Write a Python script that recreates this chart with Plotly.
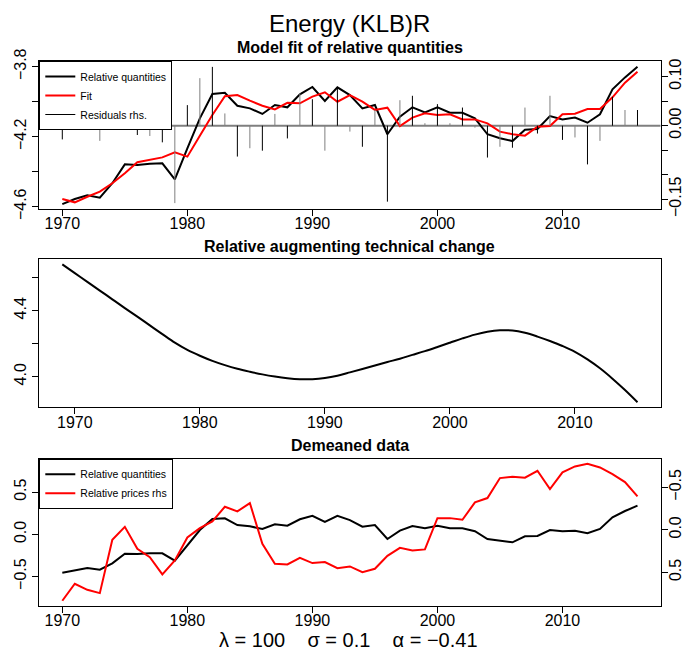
import plotly.graph_objects as go

# ---------------- data ----------------
years = list(range(1970, 2017))          # panels 1 and 3
years_tc = list(range(1969, 2016))       # panel 2

rel_quantities = [-4.585, -4.556, -4.535, -4.548, -4.466, -4.358, -4.362, -4.354, -4.352, -4.444,
                  -4.266, -4.095, -3.956, -3.949, -4.023, -4.038, -4.070, -4.019, -4.032, -3.958,
                  -3.916, -3.996, -3.918, -3.962, -4.038, -4.019, -4.186, -4.086, -4.032, -4.061,
                  -4.032, -4.063, -4.063, -4.095, -4.186, -4.209, -4.225, -4.160, -4.156, -4.082,
                  -4.101, -4.091, -4.120, -4.072, -3.929, -3.861, -3.800]

fit = [-4.556, -4.575, -4.543, -4.514, -4.466, -4.409, -4.346, -4.333, -4.318, -4.289,
       -4.314, -4.194, -4.076, -3.969, -3.962, -3.994, -4.023, -4.044, -4.006, -4.009,
       -3.971, -3.946, -4.000, -3.962, -4.000, -4.047, -4.034, -4.139, -4.091, -4.066,
       -4.076, -4.072, -4.101, -4.101, -4.124, -4.171, -4.186, -4.194, -4.143, -4.139,
       -4.072, -4.069, -4.042, -4.042, -3.975, -3.891, -3.829]

residuals = [-0.028, 0.027, 0.016, -0.031, 0.008, 0.052, -0.019, -0.021, -0.034, -0.158,
             0.042, 0.097, 0.120, 0.025, -0.063, -0.046, -0.051, 0.024, -0.026, 0.066,
             0.054, -0.051, 0.078, -0.012, -0.043, 0.032, -0.155, 0.052, 0.061, 0.005,
             0.044, 0.005, 0.037, -0.004, -0.065, -0.043, -0.045, 0.037, -0.016, 0.061,
             -0.029, -0.024, -0.079, -0.031, 0.059, 0.032, 0.032]

tech_change = [4.681, 4.628, 4.575, 4.522, 4.469, 4.416, 4.364, 4.311, 4.258, 4.206,
               4.162, 4.127, 4.096, 4.070, 4.048, 4.030, 4.014, 4.001, 3.991, 3.985,
               3.985, 3.992, 4.006, 4.026, 4.047, 4.068, 4.089, 4.109, 4.132, 4.155,
               4.180, 4.206, 4.232, 4.255, 4.272, 4.281, 4.280, 4.266, 4.243, 4.216,
               4.186, 4.151, 4.105, 4.051, 3.988, 3.919, 3.845]

demeaned_q = [-0.455, -0.423, -0.399, -0.419, -0.344, -0.230, -0.233, -0.225, -0.225, -0.313,
              -0.130, 0.051, 0.181, 0.190, 0.110, 0.095, 0.063, 0.118, 0.102, 0.178,
              0.220, 0.146, 0.220, 0.168, 0.090, 0.110, -0.056, 0.043, 0.098, 0.071,
              0.102, 0.071, 0.071, 0.036, -0.056, -0.079, -0.095, -0.024, -0.020, 0.051,
              0.036, 0.043, 0.012, 0.063, 0.201, 0.276, 0.339]

demeaned_p = [0.835, 0.635, 0.706, 0.745, 0.118, -0.035, 0.224, 0.322, 0.525, 0.361,
              0.090, -0.020, -0.098, -0.271, -0.216, -0.314, 0.165, 0.400, 0.408, 0.329,
              0.392, 0.380, 0.451, 0.431, 0.498, 0.459, 0.306, 0.212, 0.243, 0.231,
              -0.137, -0.137, -0.118, -0.322, -0.373, -0.608, -0.624, -0.612, -0.694, -0.478,
              -0.675, -0.745, -0.776, -0.733, -0.655, -0.561, -0.392]

x_ticks = [1970, 1980, 1990, 2000, 2010]
main_title = "Energy (KLB)R"
sub_titles = ["Model fit of relative quantities", "Relative augmenting technical change", "Demeaned data"]
param_text = "λ = 100\u00a0\u00a0\u00a0 σ = 0.1\u00a0\u00a0\u00a0 α = −0.41"

# ---------------- styling ----------------
FONT = "Liberation Sans, Arial, Helvetica, sans-serif"
GRAY = "#7f7f7f"
W, H = 684, 654
XL, XR = 39.3 / W, 660.5 / W
dom_top = [1 - 209 / H, 1 - 61 / H]
dom_mid = [1 - 407.3 / H, 1 - 259.3 / H]
dom_bot = [1 - 605.7 / H, 1 - 458.7 / H]

fig = go.Figure()

# panel 1
fig.add_trace(go.Scatter(x=years, y=rel_quantities, mode="lines", name="Relative quantities",
                         line=dict(color="black", width=2), xaxis="x", yaxis="y", legend="legend"))
fig.add_trace(go.Scatter(x=years, y=fit, mode="lines", name="Fit",
                         line=dict(color="red", width=2), xaxis="x", yaxis="y", legend="legend"))

rx_even, ry_even, rx_odd, ry_odd = [], [], [], []
for i, (yr, r) in enumerate(zip(years, residuals)):
    if i % 2 == 0:
        rx_even += [yr, yr, None]; ry_even += [0, r, None]
    else:
        rx_odd += [yr, yr, None]; ry_odd += [0, r, None]
fig.add_trace(go.Scatter(x=rx_even, y=ry_even, mode="lines", name="Residuals rhs.",
                         line=dict(color="black", width=1), xaxis="x", yaxis="y2",
                         legend="legend", legendgroup="res"))
fig.add_trace(go.Scatter(x=rx_odd, y=ry_odd, mode="lines", name="Residuals rhs.",
                         line=dict(color=GRAY, width=1), xaxis="x", yaxis="y2",
                         legendgroup="res", showlegend=False))

# panel 2
fig.add_trace(go.Scatter(x=years_tc, y=tech_change, mode="lines", line=dict(color="black", width=2, shape="spline"),
                         xaxis="x2", yaxis="y3", showlegend=False))

# panel 3
fig.add_trace(go.Scatter(x=years, y=demeaned_q, mode="lines", name="Relative quantities",
                         line=dict(color="black", width=2), xaxis="x3", yaxis="y4", legend="legend2"))
fig.add_trace(go.Scatter(x=years, y=demeaned_p, mode="lines", name="Relative prices rhs",
                         line=dict(color="red", width=2), xaxis="x3", yaxis="y5", legend="legend2"))

tickfont = dict(family=FONT, size=16, color="black")
common_x = dict(ticks="outside", ticklen=6, tickwidth=1, tickcolor="black", showline=True,
                linecolor="black", linewidth=1, mirror=True, showgrid=False, zeroline=False,
                tickvals=x_ticks, tickfont=tickfont, domain=[XL, XR], automargin=False,
                ticklabelstandoff=-6)
common_y = dict(ticks="outside", ticklen=6, tickwidth=1, tickcolor="black", showgrid=False,
                zeroline=False, tickfont=tickfont, tickangle=-90, automargin=False)

span = years[-1] - years[0]
pad = 0.04 * span
span2 = years_tc[-1] - years_tc[0]
pad2 = 0.04 * span2


def lab(v, fmt):
    return (fmt % v).replace("-", "−")


y1_ticks = [-3.8, -4.0, -4.2, -4.4, -4.6]
y2_ticks = [0.10, 0.05, 0.00, -0.05, -0.10, -0.15]
y3_ticks = [4.0, 4.2, 4.4, 4.6]
y45_ticks = [-0.5, 0.0, 0.5]

fig.update_layout(
    width=W, height=H, margin=dict(l=0, r=0, t=0, b=0, autoexpand=False),
    paper_bgcolor="white", plot_bgcolor="white",
    font=dict(family=FONT, color="black"),
    xaxis=dict(common_x, anchor="y", range=[years[0] - pad, years[-1] + pad]),
    xaxis2=dict(common_x, anchor="y3", range=[years_tc[0] - pad2, years_tc[-1] + pad2]),
    xaxis3=dict(common_x, anchor="y4", range=[years[0] - pad, years[-1] + pad]),
    yaxis=dict(common_y, domain=dom_top, anchor="x", range=[-4.6131, -3.7674],
               showline=True, linecolor="black", linewidth=1, mirror=True,
               tickvals=y1_ticks,
               ticktext=[lab(v, "%.1f") if v in (-3.8, -4.2, -4.6) else "" for v in y1_ticks]),
    yaxis2=dict(common_y, overlaying="y", side="right", anchor="x", range=[-0.170, 0.132],
                showline=False, tickvals=y2_ticks, ticklabelstandoff=-6,
                ticktext=[lab(v, "%.2f") if v in (0.10, 0.00, -0.15) else "" for v in y2_ticks]),
    yaxis3=dict(common_y, domain=dom_mid, anchor="x2", range=[3.8145, 4.7115],
                showline=True, linecolor="black", linewidth=1, mirror=True,
                tickvals=y3_ticks,
                ticktext=[lab(v, "%.1f") if v in (4.0, 4.4) else "" for v in y3_ticks]),
    yaxis4=dict(common_y, domain=dom_bot, anchor="x3", range=[-0.846, 0.896],
                showline=True, linecolor="black", linewidth=1, mirror=True,
                tickvals=y45_ticks, ticktext=[lab(v, "%.1f") for v in y45_ticks]),
    yaxis5=dict(common_y, overlaying="y4", side="right", anchor="x3", range=[0.893, -0.836],
                showline=False, tickvals=y45_ticks, ticklabelstandoff=-6,
                ticktext=[lab(v, "%.1f") for v in y45_ticks]),
    legend=dict(x=XL, y=dom_top[1], xanchor="left", yanchor="top", bgcolor="white",
                bordercolor="black", borderwidth=1, font=dict(family=FONT, size=10.5),
                tracegroupgap=0),
    legend2=dict(x=XL, y=dom_bot[1], xanchor="left", yanchor="top", bgcolor="white",
                 bordercolor="black", borderwidth=1, font=dict(family=FONT, size=10.5)),
    shapes=[dict(type="line", xref="x domain", x0=0, x1=1, yref="y2", y0=0, y1=0,
                 line=dict(color=GRAY, width=2), layer="below")],
)

xc = (XL + XR) / 2
ann = [
    dict(text=main_title, x=xc, y=1 - 23 / H, font=dict(size=24)),
    dict(text="<b>%s</b>" % sub_titles[0], x=xc, y=1 - 47 / H, font=dict(size=16)),
    dict(text="<b>%s</b>" % sub_titles[1], x=xc, y=1 - 247 / H, font=dict(size=16)),
    dict(text="<b>%s</b>" % sub_titles[2], x=xc, y=1 - 445 / H, font=dict(size=16)),
    dict(text=param_text, x=349 / W, y=1 - 640 / H, font=dict(size=20)),
]
for a in ann:
    a.update(xref="paper", yref="paper", showarrow=False, xanchor="center", yanchor="middle")
    a["font"].update(family=FONT, color="black")
fig.update_layout(annotations=ann)

fig.write_html("out.html")
